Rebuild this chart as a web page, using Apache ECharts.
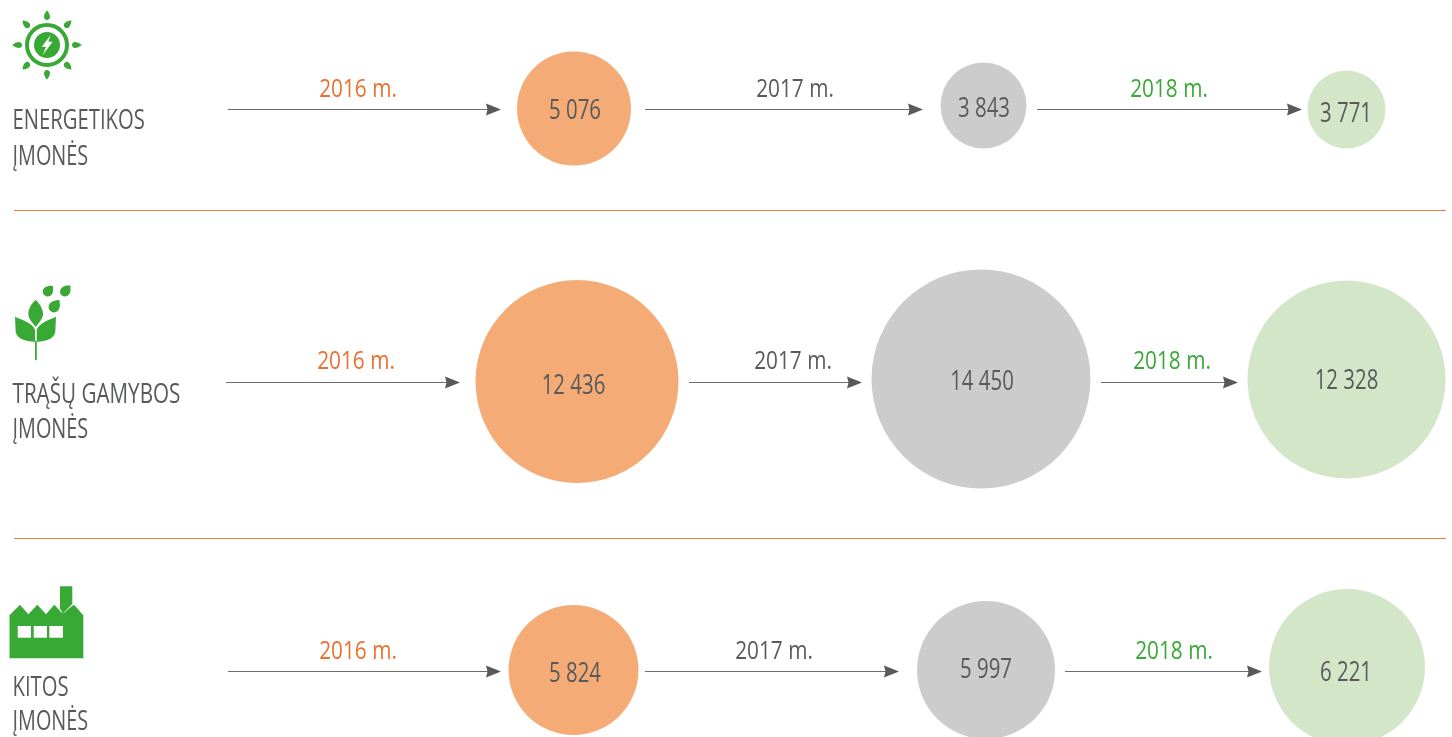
<!DOCTYPE html>
<html lang="lt" style="height: 100%">
<head>
    <meta charset="utf-8">
</head>
<body style="height: 100%; margin: 0; background: #fff">
<div id="container" style="height: 100%"></div>

<script type="text/javascript" src="https://fastly.jsdelivr.net/npm/echarts@6/dist/echarts.min.js"></script>
<script type="text/javascript">
    // chart data
    const years = ['2016 m.', '2017 m.', '2018 m.'];
    const groupNames = [
        ['ENERGETIKOS', 'ĮMONĖS'],
        ['TRĄŠŲ GAMYBOS', 'ĮMONĖS'],
        ['KITOS', 'ĮMONĖS']
    ];
    const energyValues = [5076, 3843, 3771];
    const fertilizerValues = [12436, 14450, 12328];
    const otherValues = [5824, 5997, 6221];
    const valuesByGroup = [energyValues, fertilizerValues, otherValues];

    // layout, kept apart from the data. Axes run 1:1 with the page
    const rowLayout = [
        {
            centers: [[574, 108.5], [983.5, 105.5], [1346.5, 109.5]],
            diameters: [114, 86, 78],
            valueOffsets: [[1, 0.5], [0.5, 1.5], [-0.5, 2.5]],
            arrowY: 109.5,
            arrows: [[228, 501], [645, 923], [1037, 1302]],
            yearX: [358, 795, 1169],
            yearY: 88,
            nameY: [119, 155],
            nameSqueeze: [0.75, 0.735]
        },
        {
            centers: [[577, 381.5], [981, 379], [1346.5, 379.5]],
            diameters: [203, 219, 198],
            valueOffsets: [[-3.5, 3], [1, 1], [0, 0]],
            arrowY: 382.5,
            arrows: [[226, 460], [689, 862], [1101, 1238]],
            yearX: [356, 793, 1172],
            yearY: 360,
            nameY: [393, 428],
            nameSqueeze: [0.765, 0.735]
        },
        {
            centers: [[573.5, 670], [986, 670], [1347, 667]],
            diameters: [130, 138, 156],
            valueOffsets: [[1.5, 2.5], [0, -2], [-1, 4]],
            arrowY: 671.5,
            arrows: [[228, 501], [645, 899], [1065, 1262]],
            yearX: [358, 774, 1174],
            yearY: 650,
            nameY: [686, 720],
            nameSqueeze: [0.75, 0.735]
        }
    ];
    const separatorY = [210.5, 538.5];

    // no condensed face is installed, so Open Sans gets squeezed horizontally
    const fontName = '"Open Sans", sans-serif';
    const textDy = 2;
    const textGray = '#58595b';
    const iconGreen = '#39a935';
    const bubbleColors = ['#f4ab76', '#cccccc', '#d3e7c8'];
    const yearColors = ['#ee6f2d', '#58595b', '#39a935'];

    // teardrop with the point at (tx, ty) and a round end around (cx, cy)
    function dropPath(tx, ty, cx, cy, r) {
        const len = Math.hypot(tx - cx, ty - cy);
        const dx = (tx - cx) / len;
        const dy = (ty - cy) / len;
        const ax = cx - dy * r, ay = cy + dx * r;
        const bx = cx + dy * r, by = cy - dx * r;
        const ex = cx - dx * r, ey = cy - dy * r;
        const k = 0.55 * len;
        const q = 0.55 * r;
        return 'M' + tx + ' ' + ty +
            'C' + tx + ' ' + ty + ' ' + (ax + dx * k) + ' ' + (ay + dy * k) + ' ' + ax + ' ' + ay +
            'C' + (ax - dx * q) + ' ' + (ay - dy * q) + ' ' + (ex - dy * q) + ' ' + (ey + dx * q) + ' ' + ex + ' ' + ey +
            'C' + (ex + dy * q) + ' ' + (ey - dx * q) + ' ' + (bx - dx * q) + ' ' + (by - dy * q) + ' ' + bx + ' ' + by +
            'C' + (bx + dx * k) + ' ' + (by + dy * k) + ' ' + tx + ' ' + ty + ' ' + tx + ' ' + ty + 'Z';
    }

    function sunRays() {
        let d = '';
        for (let i = 0; i < 8; i++) {
            const a = i * Math.PI / 4;
            d += dropPath(47 + 34.5 * Math.cos(a), 45 + 34.5 * Math.sin(a),
                47 + 28 * Math.cos(a), 45 + 28 * Math.sin(a), 3);
        }
        return d;
    }

    function iconShapes(index) {
        const path = function (d, fill) {
            return { type: 'path', shape: { pathData: d }, style: { fill: fill } };
        };
        if (index === 0) {
            return [
                path(sunRays(), iconGreen),
                { type: 'circle', shape: { cx: 47, cy: 45, r: 20 }, style: { fill: 'none', stroke: iconGreen, lineWidth: 4 } },
                { type: 'circle', shape: { cx: 47, cy: 45, r: 13 }, style: { fill: iconGreen } },
                path('M50.7 35L41.7 46.7L46 46.7L42.7 55L52.7 41.7L48.3 41.7Z', '#fff')
            ];
        }
        if (index === 1) {
            return [
                path('M35.7 300C30 305 28.3 310 28.3 314C28.3 319 33 323 35.7 327C38.5 323 43 319 43 314C43 310 41 305 35.7 300Z', iconGreen),
                path('M15 316.7C22 320 33 323 35 330L35 341.7C25 341 17 339 15.7 331.7Z', iconGreen),
                path('M56 316.7C49 320 38.7 323 36.7 330L36.7 341.7C46.7 341 54 339 55.3 331.7Z', iconGreen),
                path('M35 341L36.8 341L36.8 360L35 360Z', iconGreen),
                path(dropPath(52.7, 285.7, 47.7, 291.5, 5), iconGreen),
                path(dropPath(70.3, 285.7, 65, 291.5, 5), iconGreen),
                path(dropPath(59.3, 300, 54, 307, 5.4), iconGreen)
            ];
        }
        return [
            path('M9.5 615.3L20 604.7L28.3 614.3L37.3 604.7L46 614.3L54.3 604.7L61.7 612.7L74 604.7L83.3 615.3L83.3 658.3L9.5 658.3Z', iconGreen),
            path('M60 586.3L72.3 586.3L72.3 604L63 613L60 609Z', iconGreen),
            { type: 'line', shape: { x1: 63.5, y1: 613, x2: 72.5, y2: 605 }, style: { stroke: '#fff', lineWidth: 0.7 } },
            { type: 'rect', shape: { x: 17.7, y: 626, width: 13.3, height: 11.7 }, style: { fill: '#fff' } },
            { type: 'rect', shape: { x: 33.7, y: 626, width: 13.3, height: 11.7 }, style: { fill: '#fff' } },
            { type: 'rect', shape: { x: 49.3, y: 626, width: 13.7, height: 11.7 }, style: { fill: '#fff' } }
        ];
    }

    function formatValue(v) {
        return String(v).replace(/(\d)(\d{3})$/, '$1 $2');
    }

    const bubbleData = [];
    const arrowLines = [];
    const arrowHeads = [];
    const textItems = [];
    rowLayout.forEach(function (row, r) {
        valuesByGroup[r].forEach(function (value, c) {
            bubbleData.push({
                value: [row.centers[c][0], row.centers[c][1], value],
                symbolSize: row.diameters[c],
                itemStyle: { color: bubbleColors[c] }
            });
            arrowLines.push({ coords: [[row.arrows[c][0], row.arrowY], [row.arrows[c][1] - 8, row.arrowY]] });
            arrowHeads.push([row.arrows[c][1] - 7.5, row.arrowY]);
            textItems.push({
                x: row.centers[c][0] + row.valueOffsets[c][0],
                y: row.centers[c][1] + row.valueOffsets[c][1] + textDy,
                text: formatValue(value), color: textGray, size: 27, squeeze: 0.755, align: 'center'
            });
            textItems.push({
                x: row.yearX[c], y: row.yearY + textDy,
                text: years[c], color: yearColors[c], size: 26, squeeze: 0.8, align: 'center'
            });
        });
        groupNames[r].forEach(function (line, i) {
            textItems.push({
                x: 12.5, y: row.nameY[i] + textDy,
                text: line, color: textGray, size: 27, squeeze: row.nameSqueeze[i], align: 'left'
            });
        });
    });

    const separators = separatorY.map(function (y) {
        return {
            type: 'line',
            silent: true,
            shape: { x1: 14, y1: y, x2: 1446, y2: y },
            style: { stroke: '#f0803c', lineWidth: 1 }
        };
    });

    var dom = document.getElementById('container');
    var myChart = echarts.init(dom, null, { renderer: 'canvas' });

    var option = {
        animation: false,
        backgroundColor: '#fff',
        grid: { left: 0, right: 0, top: 0, bottom: 0 },
        xAxis: { type: 'value', min: 0, max: 1452, show: false },
        yAxis: { type: 'value', min: 0, max: 737, inverse: true, show: false },
        graphic: separators,
        series: [
            {
                type: 'scatter',
                name: 'bubbles',
                symbol: 'circle',
                silent: true,
                itemStyle: { opacity: 1 },
                data: bubbleData,
                z: 2
            },
            {
                type: 'lines',
                name: 'arrows',
                coordinateSystem: 'cartesian2d',
                silent: true,
                symbol: 'none',
                lineStyle: { color: '#6d6e70', width: 1, opacity: 1 },
                data: arrowLines,
                z: 3
            },
            {
                type: 'scatter',
                name: 'arrow heads',
                silent: true,
                symbol: 'path://M0 0L15 6L0 12L1.5 6Z',
                symbolSize: [15, 12],
                itemStyle: { color: textGray, opacity: 1 },
                data: arrowHeads,
                z: 3
            },
            {
                type: 'custom',
                name: 'texts',
                silent: true,
                clip: false,
                data: textItems.map(function (t) { return [t.x, t.y]; }),
                renderItem: function (params, api) {
                    const t = textItems[params.dataIndex];
                    const p = api.coord([api.value(0), api.value(1)]);
                    return {
                        type: 'text',
                        x: p[0],
                        y: p[1],
                        scaleX: t.squeeze,
                        style: {
                            text: t.text,
                            fill: t.color,
                            font: t.size + 'px ' + fontName,
                            align: t.align,
                            verticalAlign: 'middle'
                        }
                    };
                },
                z: 4
            },
            {
                type: 'custom',
                name: 'icons',
                silent: true,
                clip: false,
                data: [[0, 0], [1, 0], [2, 0]],
                renderItem: function (params) {
                    return { type: 'group', children: iconShapes(params.dataIndex) };
                },
                z: 5
            }
        ]
    };

    myChart.setOption(option);
    window.addEventListener('resize', myChart.resize);
</script>
</body>
</html>
